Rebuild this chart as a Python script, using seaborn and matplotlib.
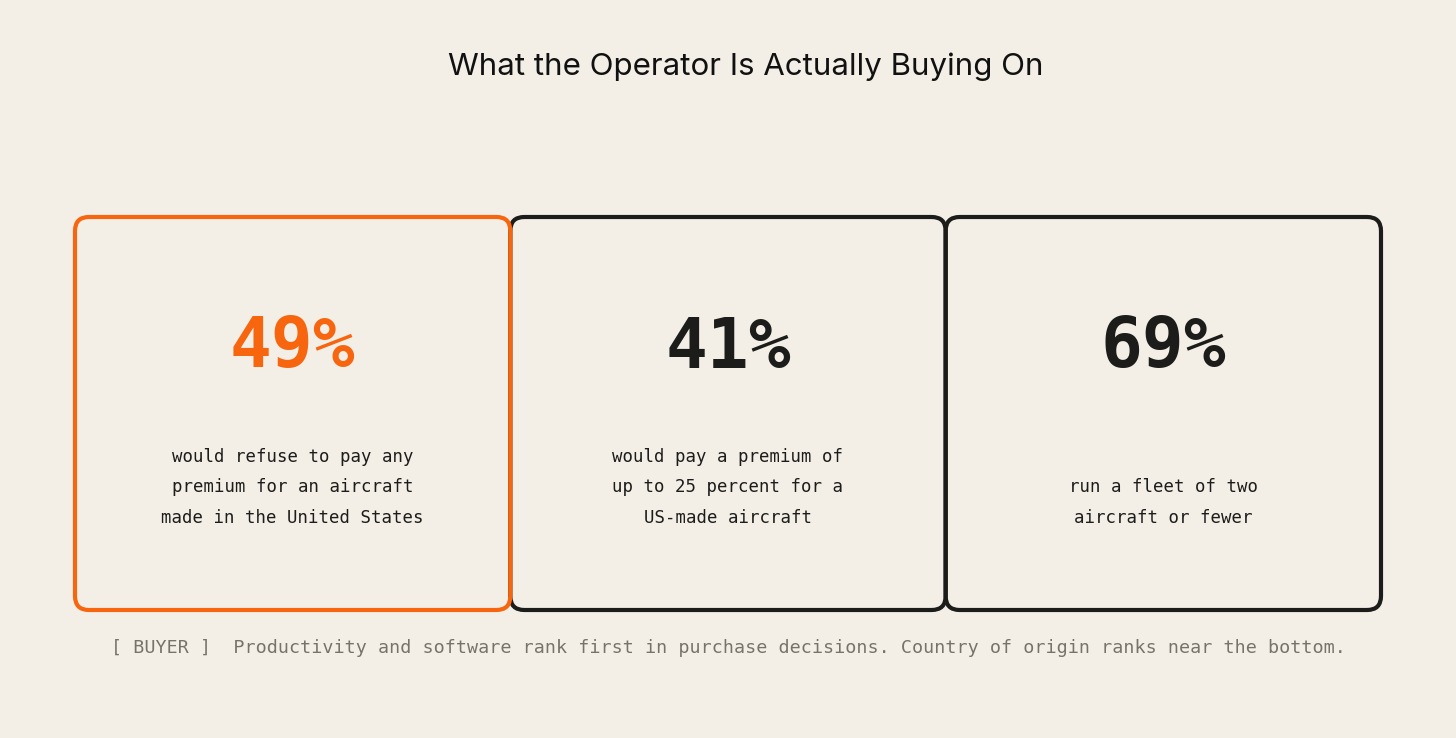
import seaborn as sns
import matplotlib.pyplot as plt
from matplotlib.patches import FancyBboxPatch

# chart content
title = "What the Operator Is Actually Buying On"
stats = ["49%", "41%", "69%"]
captions = [
    "would refuse to pay any\npremium for an aircraft\nmade in the United States",
    "would pay a premium of\nup to 25 percent for a\nUS-made aircraft",
    "run a fleet of two\naircraft or fewer",
]
highlight = [True, False, False]
footer = "[ BUYER ]  Productivity and software rank first in purchase decisions. Country of origin ranks near the bottom."

BG = "#f3efe7"
ORANGE = "#f8650f"
INK = "#1c1c1a"
GREY = "#77736b"

W, H = 1456, 738
sns.set_theme(style="white")
plt.rcParams['font.family'] = ['DejaVu Sans Mono', 'DejaVu Sans']

fig = plt.figure(figsize=(W / 100, H / 100), dpi=100, facecolor=BG)
ax = fig.add_axes([0, 0, 1, 1])
ax.set_facecolor(BG)
ax.set_xlim(0, W)
ax.set_ylim(H, 0)
ax.axis("off")

# card layout (pixel space)
left, top, bottom = 75, 217, 610
card_w = (1381 - left) / len(stats)
pad = 14

for i, (s, cap, hl) in enumerate(zip(stats, captions, highlight)):
    x0 = left + i * card_w
    col = ORANGE if hl else INK
    box = FancyBboxPatch((x0 + pad, top + pad), card_w - 2 * pad, bottom - top - 2 * pad,
                         boxstyle="round,pad=%d" % pad, linewidth=3.0,
                         edgecolor=col, facecolor="none", zorder=3 if hl else 2)
    ax.add_patch(box)
    cx = x0 + card_w / 2
    ax.text(cx, 348, s, ha="center", va="center", fontsize=50, fontweight="bold",
            color=col, family="DejaVu Sans Mono")
    # captions sit on a common last line
    ax.text(cx, 527, cap, ha="center", va="bottom", fontsize=12.5, color=INK,
            linespacing=1.9, family="DejaVu Sans Mono")

ax.text(746, 67, title, ha="center", va="center", fontsize=22.5, color="#111111",
        family=["Inter", "DejaVu Sans"])
ax.text(111, 648, footer, ha="left", va="center", fontsize=13.2, color=GREY,
        family="DejaVu Sans Mono")

fig.savefig("out.png", dpi=100, facecolor=BG)
